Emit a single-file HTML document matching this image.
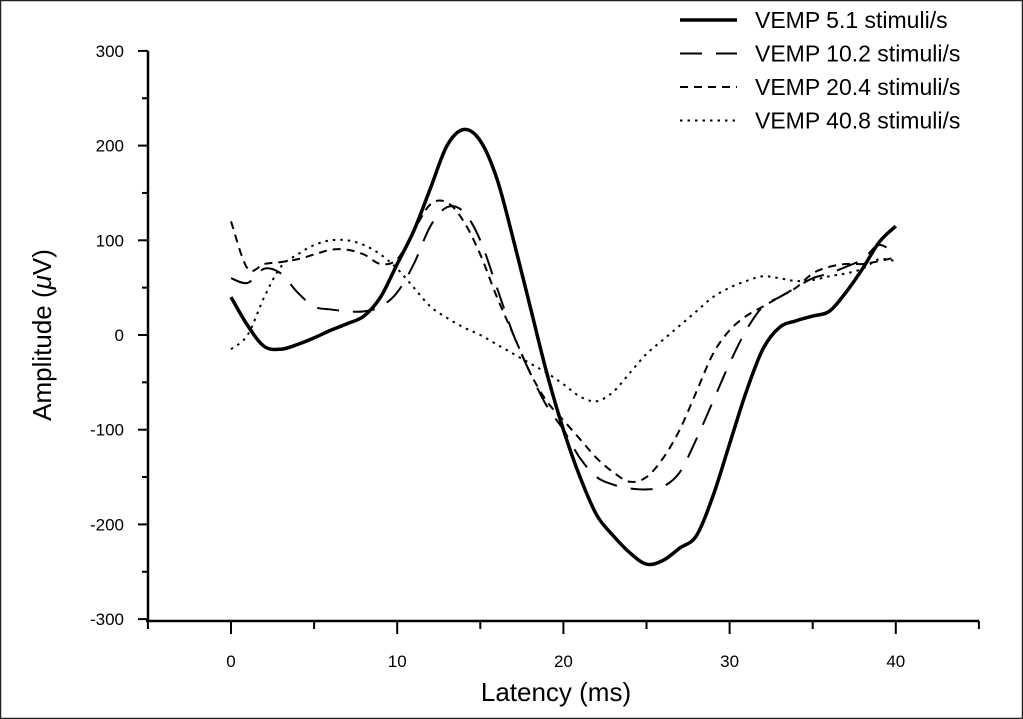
<!DOCTYPE html>
<html><head><meta charset="utf-8"><style>
html,body{margin:0;padding:0;background:#fff}
svg{display:block}
text{font-family:"Liberation Sans",Arial,sans-serif;fill:#000}
</style></head><body>
<svg id="chart" width="1023" height="719">
<rect x="0.5" y="0.5" width="1022" height="718" fill="#fff" stroke="#222" stroke-width="1.5"/>
<g id="axes"></g><g id="series"></g><g id="legend"></g>
</svg>
<script>
const xs=[0,1,2,3,4,5,6,7,8,9,10,11,12,13,14,15,16,17,18,19,20,21,22,23,24,25,26,27,28,29,30,31,32,33,34,35,36,37,38,39,40];
const s51=[40,10,-12,-15,-10,-3,5,12,20,40,75,110,155,200,217,205,165,100,30,-40,-100,-150,-190,-212,-230,-242,-238,-225,-212,-170,-115,-60,-15,8,15,20,25,45,70,98,115];
const s102=[60,55,70,65,45,30,27,25,25,30,45,75,115,135,130,100,50,0,-40,-75,-100,-130,-150,-158,-162,-163,-160,-145,-110,-70,-30,5,30,40,50,60,65,72,80,95,85];
const s204=[120,70,75,77,80,85,90,90,85,75,80,110,138,140,120,85,40,0,-40,-70,-90,-110,-130,-145,-155,-150,-130,-100,-60,-20,5,20,30,40,50,65,72,75,75,78,82];
const s408=[-15,0,40,72,85,95,100,100,95,85,70,50,30,18,8,0,-10,-20,-30,-40,-52,-65,-70,-60,-40,-20,-5,10,25,40,50,57,62,60,57,58,62,65,70,80,78];
const xTicks=[0,10,20,30,40];
const yTicks=[300,200,100,0,-100,-200,-300];
const labels=["VEMP 5.1 stimuli/s","VEMP 10.2 stimuli/s","VEMP 20.4 stimuli/s","VEMP 40.8 stimuli/s"];

const NS="http://www.w3.org/2000/svg";
const X=v=>231+v*16.62, Y=v=>335-v*0.947;
function mk(tag,parent,attrs){const e=document.createElementNS(NS,tag);for(const k in attrs)e.setAttribute(k,attrs[k]);parent.appendChild(e);return e;}
const ax=document.getElementById('axes');
let e=mk('line',ax,{x1:148,y1:Y(300),x2:148,y2:Y(-300)+1,stroke:'#000','stroke-width':2.5});


e=mk('line',ax,{x1:146,y1:621,x2:979,y2:621,stroke:'#000','stroke-width':2.5});


for(let v=-300;v<=300;v+=50){const maj=v%100===0;e=mk('line',ax,{x1:maj?138:142,y1:Y(v),x2:148,y2:Y(v),stroke:'#000','stroke-width':2});

}
yTicks.forEach(v=>{e=mk('text',ax,{x:124,y:Y(v)+6,'text-anchor':'end','font-size':17});e.textContent=v;

});
for(let v=-5;v<=45;v+=5){const maj=v%10===0;e=mk('line',ax,{x1:X(v),y1:621,x2:X(v),y2:maj?634:629,stroke:'#000','stroke-width':2});

}
xTicks.forEach(v=>{e=mk('text',ax,{x:X(v),y:667,'text-anchor':'middle','font-size':17});e.textContent=v;

});
e=mk('text',ax,{x:556,y:701,'text-anchor':'middle','font-size':26});e.textContent='Latency (ms)';


e=mk('text',ax,{x:0,y:0,'text-anchor':'middle','font-size':26,transform:'translate(51,335) rotate(-90)'});
e.innerHTML='Amplitude (<tspan font-style="italic">μ</tspan>V)';



const styles=[{w:3.5,d:''},{w:2,d:'22 14'},{w:2,d:'8 6'},{w:2,d:'2.5 5'}];
const data=[s51,s102,s204,s408];
const names=['series-5-1','series-10-2','series-20-4','series-40-8'];
const sg=document.getElementById('series');
function smooth(pts){let d=`M${pts[0][0]},${pts[0][1]}`;for(let i=0;i<pts.length-1;i++){const p0=pts[i-1]||pts[i],p1=pts[i],p2=pts[i+1],p3=pts[i+2]||p2;
d+=` C${p1[0]+(p2[0]-p0[0])/6},${p1[1]+(p2[1]-p0[1])/6} ${p2[0]-(p3[0]-p1[0])/6},${p2[1]-(p3[1]-p1[1])/6} ${p2[0]},${p2[1]}`;}return d;}
data.forEach((arr,i)=>{const pts=xs.map((x,j)=>[X(x),Y(arr[j])]);
const p=mk('path',sg,{d:smooth(pts),fill:'none',stroke:'#000','stroke-width':styles[i].w,'stroke-dasharray':styles[i].d,'stroke-linejoin':'round'});

});

const lg=document.getElementById('legend');
labels.forEach((t,i)=>{const y=20+i*33.5;
const l=mk('line',lg,{x1:680,y1:y,x2:737,y2:y,stroke:'#000','stroke-width':styles[i].w,'stroke-dasharray':styles[i].d});


const tx=mk('text',lg,{x:755,y:y+8,'font-size':23});tx.textContent=t;

});
</script>
</body></html>
